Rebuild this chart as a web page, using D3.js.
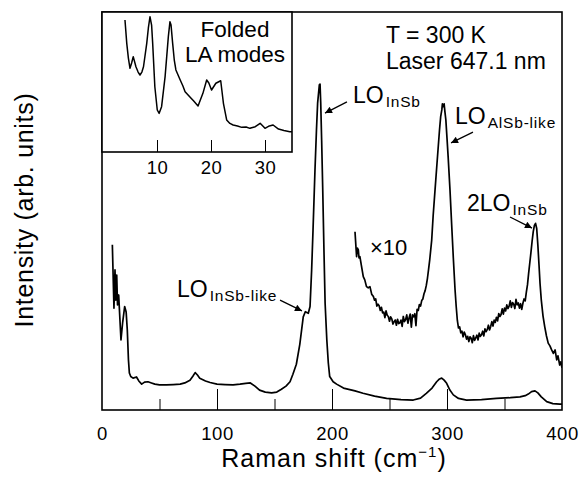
<!DOCTYPE html>
<html><head><meta charset="utf-8">
<script src="https://cdn.jsdelivr.net/npm/d3@7"></script>
<style>
html,body{margin:0;padding:0;background:#fff;}
svg{display:block;}
text{font-family:"Liberation Sans",Arial,Helvetica,sans-serif;fill:#000;}
</style></head>
<body>
<svg id="chart" width="583" height="482"></svg>
<script>
// ---------- DATA ----------
// Main spectrum (x1): Raman shift (cm-1) and intensity (arb. units, 0-100)
const mainShift = [9,10.4,11.3,12,12.8,13.5,14.5,16.5,18,19.7,21,22,23,23.8,25,27,30,32,34.5,37,40,43,46,50,56,62,68,72,76.5,79,81,83,85,90,94,100,107,114,120,125,129,133,137,142,147.5,152,156,160,163.5,166,169,172,175,176.8,179.4,180.9,182.3,183.5,185.2,186.5,187.5,189,189.6,190.2,191,191.9,193,194,195.5,196.8,198,201,204,210,220,227,237,247.5,260,270.7,277,282,287,291,293.5,295.4,297.5,299.7,302.5,305.5,310,317,330,343,355,363.5,368,370.7,373.5,376.5,379,382,386.7,392,398,400];
const mainInt   = [41.5,25.6,35.2,27.6,33.9,26.4,28.9,17.6,22.1,26.0,24.6,20.1,12.6,9.3,8.4,8.0,8.3,7.3,6.5,7.0,7.1,6.8,6.5,6.3,6.3,6.4,6.5,6.8,7.5,8.5,9.4,8.8,8.0,7.3,6.9,6.5,6.4,6.3,6.5,6.7,6.8,6.0,5.0,4.5,4.3,4.5,5.2,6.0,7.1,9.0,11.5,16.5,23.4,24.7,24.3,26.0,35.2,45.2,60.3,70.4,77.1,81.7,81.9,77.1,67.8,56.0,40.2,26.9,17.6,11.8,8.4,7.1,6.5,5.5,4.8,4.2,3.5,2.9,2.6,2.5,3.0,4.2,5.5,7.1,7.8,8.0,7.5,6.7,5.0,3.8,2.9,2.5,2.6,2.9,3.1,3.3,3.6,4.0,4.6,4.8,4.3,3.3,2.1,1.6,1.5,1.5];

// Magnified spectrum (x10), offset upward
const x10Shift = [220,221,221.4,222,222.9,223.5,224.3,225.5,227.2,228.5,230,231.5,233,234.5,236,237,238,239,240,241,242,243,244,245,246,247,248,249,250,251,252,253,254,255,256,257,258,259,260,261,262,263,264,265,266,267,268,269,270,271,272,273,274,275,276,277,278,279,280,281,282,283,284,285,286.7,288,289.6,291,292.4,293.5,294.5,295.5,296,296.8,297.5,298.2,299,300,301,302.6,304,305.5,307,308,309,310,311,312,313,314,315,316,317,318,319,320,321,322,323,324,325,326,327,328,329,330,331,332,333,334,335,336,337,338,339,340,341,342,343,344,345,346,347,348,349,350,351,352,353,354,355,356,357,358,359,360,361,362,363,364,365,366,367,368,369,370,371,372,373,374,375,376,377,378,379,380,380.9,382,383.5,385,386.5,388,389.5,391,392.5,394,395.4,396.5,398,399,400];
const x10Int   = [44.8,40.2,38.5,40.7,40.2,38.2,38.5,36.4,33.5,32.7,31.0,30.7,31.0,29.1,28.5,27.6,27.9,26.1,26.6,26.2,25.0,25.8,24.4,24.6,23.2,24.9,23.8,23.5,22.3,23.4,22.9,21.6,22.2,22.6,21.3,22.8,21.7,21.9,22.6,21.0,23.5,22.2,22.7,23.9,21.8,23.1,24.1,20.8,23.9,23.4,24.2,21.2,25.3,25.0,26.5,26.1,27.5,27.9,29.2,30.0,31.3,33.1,35.4,37.8,42.7,49.0,55.3,60.8,66.2,70.4,73.7,75.4,76.9,76.2,76.9,74.9,72.9,68.3,63.6,55.3,46.9,38.2,30.2,26.0,22.5,20.6,20.9,19.4,19.8,18.4,19.6,18.9,17.8,18.5,17.2,18.4,18.0,16.9,18.7,17.5,18.1,18.8,17.6,19.3,18.5,18.9,19.8,18.6,20.4,19.7,20.2,21.3,20.1,21.0,22.2,21.1,22.6,22.0,23.3,22.4,24.2,23.5,24.0,25.4,24.1,25.6,24.9,26.4,25.5,26.1,27.4,25.8,27.0,26.6,25.5,27.8,26.4,26.9,25.6,26.7,25.3,26.8,27.9,27.4,29.6,31.5,34.4,37.0,39.6,42.4,44.8,46.4,46.9,45.6,41.5,36.5,31.8,27.6,23.6,20.9,18.6,16.8,16.1,15.1,14.2,15.1,12.6,13.6,11.3,12.1,10.6];

// Inset: folded LA modes
const insetShift = [4.07,4.4,4.7,5.0,5.3,5.6,6.1,6.5,6.85,7.2,7.5,8.1,8.4,8.7,9.0,9.2,9.6,10.05,10.4,10.85,11.5,12.1,12.4,12.6,12.9,13.2,13.5,14.3,14.8,15.2,16.1,16.8,17.6,18.5,19.2,19.6,20.1,20.9,21.8,22.3,22.9,23.5,24.1,24.9,25.7,26.5,27.2,28.2,29.1,30.0,30.8,31.5,32.5,33.5,34.6,35];
const insetInt   = [94.3,77.6,67.1,59.8,63.6,68.1,60.9,57.1,55.0,57.1,60.9,77.6,88.6,96.6,90.7,77.6,46.6,30.0,27.6,32.4,53.8,82.4,93.1,90.7,77.6,65.7,58.6,51.4,47.1,43.1,39.3,36.4,32.9,41.9,51.4,49.3,44.3,49.1,50.9,34.8,22.9,20.4,19.3,18.6,17.6,17.9,16.9,18.1,20.5,16.9,18.6,19.3,16.4,15.4,14.5,14.5];

// Tick values / labels
const mainTickLabels = [0,100,200,300,400];
const mainMajorTicks = [100,200,300];
const mainMinorTicks = [50,150,250,350];
const insetTicks = [10,20,30];

// Annotation arrows in data coordinates [tailShift, tailInt, tipShift, tipInt]
const arrows = [
  [213.0,77.4,193.9,74.6],
  [322.6,69.8,303.5,67.1],
  [354.8,48.5,373.9,45.7],
  [154.8,27.6,173.9,24.9]
];

// ---------- LAYOUT ----------
const svg = d3.select("#chart");
const L = 102, R = 562, T = 12, B = 410;
const x = d3.scaleLinear().domain([0,400]).range([L,R]);
const y = d3.scaleLinear().domain([0,100]).range([B,T]);

const IL = 102, IR = 292, IT = 12, IB = 152;
const xi = d3.scaleLinear().domain([0,35]).range([103,292]);
const yi = d3.scaleLinear().domain([0,100]).range([IB,IT]);

const defs = svg.append("defs");
defs.append("clipPath").attr("id","clipMain").append("rect")
  .attr("x",L).attr("y",T).attr("width",R-L).attr("height",B-T);
defs.append("clipPath").attr("id","clipInset").append("rect")
  .attr("x",IL).attr("y",IT).attr("width",IR-IL).attr("height",IB-IT);
defs.append("marker").attr("id","ah").attr("viewBox","0 0 10 10")
  .attr("refX",10).attr("refY",5).attr("markerWidth",9).attr("markerHeight",7)
  .attr("markerUnits","userSpaceOnUse").attr("orient","auto")
  .append("path").attr("d","M0,0 L10,5 L0,10 z").attr("fill","#000");

const lineMain = d3.line().x((d,i)=>x(mainShift[i])).y((d,i)=>y(mainInt[i]));
const lineX10 = d3.line().x((d,i)=>x(x10Shift[i])).y((d,i)=>y(x10Int[i]));
const lineInset = d3.line().x((d,i)=>xi(insetShift[i])).y((d,i)=>yi(insetInt[i]));

const gMain = svg.append("g").attr("clip-path","url(#clipMain)");
gMain.append("path").attr("d",lineMain(mainShift)).attr("fill","none")
  .attr("stroke","#000").attr("stroke-width",1.7).attr("stroke-linejoin","round");
gMain.append("path").attr("d",lineX10(x10Shift)).attr("fill","none")
  .attr("stroke","#000").attr("stroke-width",1.7).attr("stroke-linejoin","round");

// main axis ticks (inside, pointing up)
const axMinor = d3.axisBottom(x).tickValues(mainMinorTicks).tickSize(-11).tickFormat("");
const axMajor = d3.axisBottom(x).tickValues(mainMajorTicks).tickSize(-21).tickFormat("");
const axLab = d3.axisBottom(x).tickValues(mainTickLabels).tickSize(0).tickPadding(17).tickFormat(d3.format("d"));
[axMinor,axMajor].forEach(a=>{
  const g = svg.append("g").attr("transform",`translate(0,${B})`).call(a);
  g.select(".domain").remove();
  g.selectAll("line").attr("stroke","#000").attr("stroke-width",1);
});
const gl = svg.append("g").attr("transform",`translate(0,${B})`).call(axLab);
gl.select(".domain").remove();
gl.selectAll("text").attr("font-size","18.5px").style("letter-spacing","0.5px")
  .attr("font-family","Liberation Sans, Arial, sans-serif").attr("fill","#000");

// main frame
svg.append("rect").attr("x",L).attr("y",T).attr("width",R-L).attr("height",B-T)
  .attr("fill","none").attr("stroke","#000").attr("stroke-width",1.6);

// inset
svg.append("rect").attr("x",IL).attr("y",IT).attr("width",IR-IL).attr("height",IB-IT)
  .attr("fill","#fff");
svg.append("g").attr("clip-path","url(#clipInset)").append("path")
  .attr("d",lineInset(insetShift)).attr("fill","none").attr("stroke","#000")
  .attr("stroke-width",1.5).attr("stroke-linejoin","round");
const axIn = d3.axisBottom(xi).tickValues(insetTicks).tickSize(-12).tickFormat("");
const gIn = svg.append("g").attr("transform",`translate(0,${IB})`).call(axIn);
gIn.select(".domain").remove();
gIn.selectAll("line").attr("stroke","#000").attr("stroke-width",1);
const axInLab = d3.axisBottom(xi).tickValues(insetTicks).tickSize(0).tickPadding(9).tickFormat(d3.format("d"));
const gInL = svg.append("g").attr("transform",`translate(0,${IB})`).call(axInLab);
gInL.select(".domain").remove();
gInL.selectAll("text").attr("font-size","18.5px").style("letter-spacing","0.5px")
  .attr("font-family","Liberation Sans, Arial, sans-serif").attr("fill","#000");
svg.append("rect").attr("x",IL).attr("y",IT).attr("width",IR-IL).attr("height",IB-IT)
  .attr("fill","none").attr("stroke","#000").attr("stroke-width",1.6);

// axis titles
const xt = svg.append("text").attr("x",334).attr("y",467).attr("text-anchor","middle")
  .attr("font-size","25px").style("letter-spacing","1px");
xt.append("tspan").text("Raman shift (cm");
xt.append("tspan").attr("font-size","15px").attr("dy",-10).text("−1");
xt.append("tspan").attr("dy",10).text(")");

svg.append("text").attr("transform","translate(33,210) rotate(-90)")
  .attr("text-anchor","middle").attr("font-size","25px").style("letter-spacing","0.7px")
  .text("Intensity (arb. units)");

// annotations
function addText(px,py,txt,size){
  return svg.append("text").attr("x",px).attr("y",py).attr("font-size",size+"px").text(txt);
}
addText(386,43,"T = 300 K",23);
addText(386,69,"Laser 647.1 nm",23);
addText(235,37,"Folded",22.5).attr("text-anchor","middle");
addText(235,62,"LA modes",22.5).attr("text-anchor","middle");
addText(370,255,"×10",22);

function addLabel(px,py,main,sub){
  const t = svg.append("text").attr("x",px).attr("y",py).attr("font-size","23px");
  t.append("tspan").text(main);
  t.append("tspan").attr("font-size","15.5px").attr("dy",4).attr("dx",2)
    .style("letter-spacing","0.8px").text(sub);
}
addLabel(353,103,"LO","InSb");
addLabel(455,124,"LO","AlSb-like");
addLabel(467,211,"2LO","InSb");
addLabel(177,297,"LO","InSb-like");

svg.append("g").selectAll("line").data(arrows).join("line")
  .attr("x1",d=>x(d[0])).attr("y1",d=>y(d[1]))
  .attr("x2",d=>x(d[2])).attr("y2",d=>y(d[3]))
  .attr("stroke","#000").attr("stroke-width",1.3).attr("marker-end","url(#ah)");
</script>
</body></html>
